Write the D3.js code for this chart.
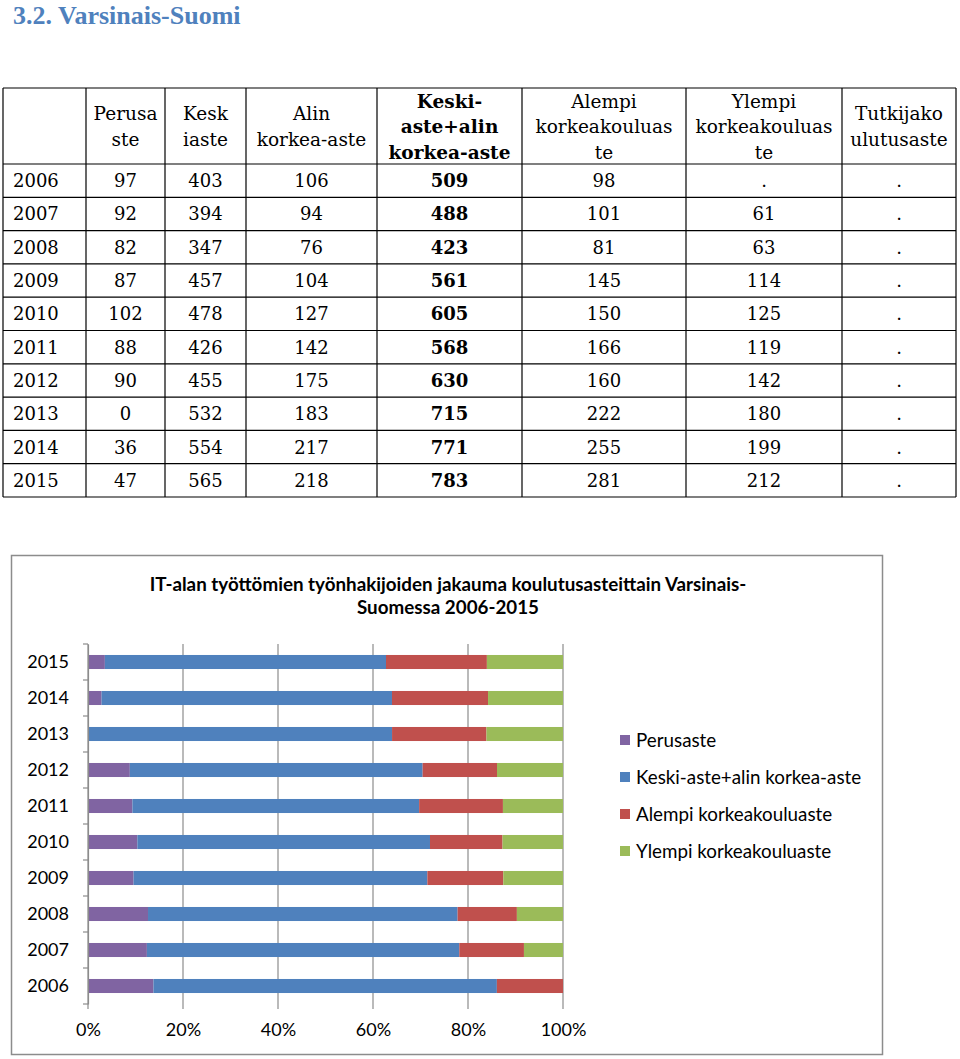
<!DOCTYPE html>
<html>
<head>
<meta charset="utf-8">
<script src="https://cdn.jsdelivr.net/npm/d3@7"></script>
<style>
  body { margin: 0; background: #fff; }
  svg { display: block; }
</style>
</head>
<body>
<div id="chart"></div>
<script>
// table data (null = "." in the source table)
var years = [2006, 2007, 2008, 2009, 2010, 2011, 2012, 2013, 2014, 2015];
var perusaste = [97, 92, 82, 87, 102, 88, 90, 0, 36, 47];
var keskiaste = [403, 394, 347, 457, 478, 426, 455, 532, 554, 565];
var alinKorkea = [106, 94, 76, 104, 127, 142, 175, 183, 217, 218];
var keskiAlin = [509, 488, 423, 561, 605, 568, 630, 715, 771, 783];
var alempi = [98, 101, 81, 145, 150, 166, 160, 222, 255, 281];
var ylempi = [null, 61, 63, 114, 125, 119, 142, 180, 199, 212];
var tutkija = [null, null, null, null, null, null, null, null, null, null];

var headers = [
  [""],
  ["Perusa", "ste"],
  ["Kesk", "iaste"],
  ["Alin", "korkea-aste"],
  ["Keski-", "aste+alin", "korkea-aste"],
  ["Alempi", "korkeakouluas", "te"],
  ["Ylempi", "korkeakouluas", "te"],
  ["Tutkijako", "ulutusaste"]
];

// chart series
var seriesNames = ["Perusaste", "Keski-aste+alin korkea-aste", "Alempi korkeakouluaste", "Ylempi korkeakouluaste"];
var seriesColors = ["#8064a2", "#4f81bd", "#c0504d", "#9bbb59"];
var xTicks = [0, 0.2, 0.4, 0.6, 0.8, 1];
var chartTitle = ["IT-alan työttömien työnhakijoiden jakauma koulutusasteittain Varsinais-", "Suomessa 2006-2015"];

var W = 960, H = 1059;
var svg = d3.select("#chart").append("svg").attr("width", W).attr("height", H);

// heading
svg.append("text").attr("x", 13).attr("y", 24)
  .attr("font-family", "Liberation Serif").attr("font-weight", "bold")
  .attr("font-size", 26).attr("fill", "#4f81bd")
  .text("3.2. Varsinais-Suomi");

// ---- table ----
var colX = [3, 86, 165, 246, 377, 522, 686, 842, 956];
var tableTop = 88, headBottom = 164, rowH = 33.3;
var serif = "DejaVu Serif";
var tbl = svg.append("g");

var columns = [perusaste, keskiaste, alinKorkea, keskiAlin, alempi, ylempi, tutkija];

// header text
headers.forEach(function (lines, c) {
  var cx = (colX[c] + colX[c + 1]) / 2;
  var lh = 25.5;
  var y0 = 127 - (lines.length - 1) * lh / 2 + 6;
  lines.forEach(function (ln, i) {
    tbl.append("text").attr("x", cx).attr("y", y0 + i * lh)
      .attr("text-anchor", "middle").attr("font-family", serif)
      .attr("font-size", 18.5).attr("font-weight", c === 4 ? "bold" : "normal")
      .text(ln);
  });
});

// rows
years.forEach(function (yr, r) {
  var ty = headBottom + r * rowH + rowH / 2 + 6.5;
  tbl.append("text").attr("x", 13).attr("y", ty)
    .attr("font-family", serif).attr("font-size", 18).text(yr);
  columns.forEach(function (col, c) {
    var v = col[r];
    tbl.append("text").attr("x", (colX[c + 1] + colX[c + 2]) / 2).attr("y", ty)
      .attr("text-anchor", "middle").attr("font-family", serif)
      .attr("font-size", 18).attr("font-weight", c === 3 ? "bold" : "normal")
      .text(v === null ? "." : v);
  });
});

// grid lines
var tableBottom = headBottom + years.length * rowH;
colX.forEach(function (x) {
  tbl.append("line").attr("x1", x).attr("x2", x).attr("y1", tableTop).attr("y2", tableBottom)
    .attr("stroke", "#000").attr("stroke-width", 1.2);
});
d3.range(years.length + 2).forEach(function (i) {
  var y = i === 0 ? tableTop : headBottom + (i - 1) * rowH;
  tbl.append("line").attr("x1", colX[0]).attr("x2", colX[colX.length - 1]).attr("y1", y).attr("y2", y)
    .attr("stroke", "#000").attr("stroke-width", 1.2);
});

// ---- chart ----
var sans = "Lato";
svg.append("rect").attr("x", 11.5).attr("y", 555.5).attr("width", 871).attr("height", 499)
  .attr("fill", "#fff").attr("stroke", "#8c8c8c").attr("stroke-width", 1.5);

chartTitle.forEach(function (t, i) {
  svg.append("text").attr("x", 448).attr("y", 591 + i * 23)
    .attr("text-anchor", "middle").attr("font-family", sans).attr("font-weight", "bold")
    .attr("font-size", 18.8).text(t);
});

var x = d3.scaleLinear().domain([0, 1]).range([88, 563]);
var y = d3.scaleBand().domain(years.slice().reverse()).range([644, 1004])
  .paddingInner(0.61).paddingOuter(0.305);

var plot = svg.append("g");

// vertical gridlines
plot.selectAll("line.grid").data(xTicks).enter().append("line")
  .attr("x1", function (d) { return x(d); }).attr("x2", function (d) { return x(d); })
  .attr("y1", 644).attr("y2", 1009)
  .attr("stroke", "#8c8c8c").attr("stroke-width", 1.2);

// stacked data
var chartData = years.map(function (yr, i) {
  var vals = [perusaste[i], keskiAlin[i], alempi[i], ylempi[i] || 0];
  var total = d3.sum(vals);
  var o = { year: yr };
  seriesNames.forEach(function (s, k) { o[s] = vals[k] / total; });
  return o;
});
var stacked = d3.stack().keys(seriesNames)(chartData);

plot.selectAll("g.series").data(stacked).enter().append("g")
  .attr("fill", function (d, i) { return seriesColors[i]; })
  .selectAll("rect").data(function (d) { return d; }).enter().append("rect")
  .attr("x", function (d) { return x(d[0]); })
  .attr("width", function (d) { return x(d[1]) - x(d[0]); })
  .attr("y", function (d) { return y(d.data.year); })
  .attr("height", y.bandwidth());

// y axis
var yAxis = d3.axisLeft(y).tickSize(0).tickPadding(19);
var ya = plot.append("g").attr("transform", "translate(88,0)").call(yAxis);
ya.select(".domain").attr("stroke", "#8c8c8c").attr("stroke-width", 1.2);
ya.selectAll("text").attr("font-family", sans).attr("font-size", 18).attr("fill", "#000");
// category boundary ticks
plot.selectAll("line.ytick").data(d3.range(years.length + 1)).enter().append("line")
  .attr("x1", 83).attr("x2", 88)
  .attr("y1", function (i) { return 644 + i * y.step(); })
  .attr("y2", function (i) { return 644 + i * y.step(); })
  .attr("stroke", "#8c8c8c").attr("stroke-width", 1.2);

// x axis labels
var xAxis = d3.axisBottom(x).tickValues(xTicks).tickFormat(d3.format(".0%")).tickSize(0).tickPadding(19);
var xa = plot.append("g").attr("transform", "translate(0,1004)").call(xAxis);
xa.select(".domain").remove();
xa.selectAll("text").attr("font-family", sans).attr("font-size", 18).attr("fill", "#000");

// legend
var lg = svg.append("g");
seriesNames.forEach(function (s, i) {
  var ly = 740 + i * 37;
  lg.append("rect").attr("x", 620).attr("y", ly - 5).attr("width", 10).attr("height", 10)
    .attr("fill", seriesColors[i]);
  lg.append("text").attr("x", 636).attr("y", ly + 6.5).attr("font-family", sans)
    .attr("font-size", 18.8).text(s);
});
</script>
</body>
</html>
